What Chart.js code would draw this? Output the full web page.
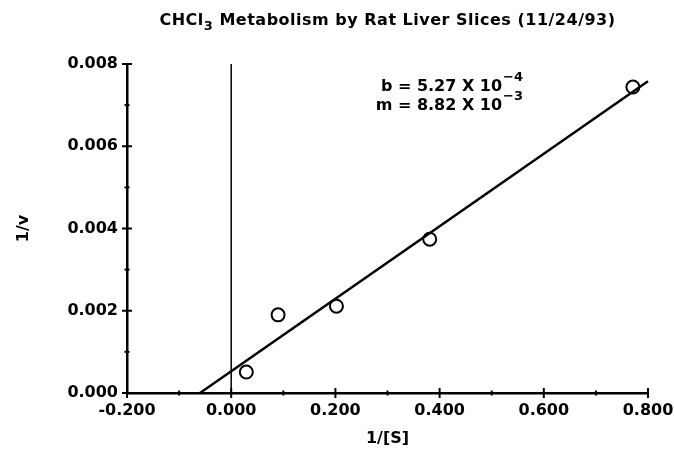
<!DOCTYPE html>
<html>
<head>
<meta charset="utf-8">
<script src="https://cdn.jsdelivr.net/npm/chart.js@4.4.0/dist/chart.umd.min.js"></script>
<style>
  html, body { margin: 0; padding: 0; background: #fff; }
  #wrap { width: 674px; height: 454px; }
</style>
</head>
<body>
<div id="wrap"><canvas id="canvas_1"></canvas></div>
<script>
// data
let invS = [0.029, 0.090, 0.202, 0.381, 0.771];
let invV = [0.00051, 0.00190, 0.00211, 0.00374, 0.00744];
// fitted line, b = 5.27e-4, m = 8.82e-3
let fitX = [-0.060, 0.800];
let fitY = [0.0, 0.00758];
// vertical line at 1/[S] = 0
let zeroX = [0, 0];
let zeroY = [0, 0.008];
let xTicks = [-0.2, 0, 0.2, 0.4, 0.6, 0.8];
let yTicks = [0, 0.002, 0.004, 0.006, 0.008];
let titleParts = ['CHCl', '3', ' Metabolism by Rat Liver Slices (11/24/93)'];
let noteB = ['b = 5.27 X 10', '\u22124'];
let noteM = ['m = 8.82 X 10', '\u22123'];

const FONT = '"DejaVu Sans", sans-serif';

function toPoints(xs, ys) {
  return xs.map((x, i) => ({ x: x, y: ys[i] }));
}
function isMajor(list, v) {
  return list.some(t => Math.abs(t - v) < 1e-9);
}

// crossing major ticks, small minor ticks, title and fit note
const decor = {
  id: 'decor',
  afterDraw(chart) {
    const ctx = chart.ctx;
    const area = chart.chartArea;
    const sx = chart.scales.x, sy = chart.scales.y;
    ctx.save();
    ctx.strokeStyle = '#000';
    ctx.lineWidth = 2;
    sx.ticks.forEach(t => {
      const px = sx.getPixelForValue(t.value);
      const len = isMajor(xTicks, t.value) ? 5 : 2.5;
      ctx.beginPath();
      ctx.moveTo(px, area.bottom - len);
      ctx.lineTo(px, area.bottom + len);
      ctx.stroke();
    });
    sy.ticks.forEach(t => {
      const py = sy.getPixelForValue(t.value);
      const len = isMajor(yTicks, t.value) ? 5 : 2.5;
      ctx.beginPath();
      ctx.moveTo(area.left - len, py);
      ctx.lineTo(area.left + len, py);
      ctx.stroke();
    });

    // title with subscript
    ctx.fillStyle = '#000';
    ctx.textBaseline = 'alphabetic';
    ctx.textAlign = 'left';
    ctx.letterSpacing = '0.5px';
    const big = 'bold 16px ' + FONT, small = 'bold 13px ' + FONT;
    ctx.font = big;
    const w0 = ctx.measureText(titleParts[0]).width;
    const w2 = ctx.measureText(titleParts[2]).width;
    ctx.font = small;
    const w1 = ctx.measureText(titleParts[1]).width;
    let tx = (area.left + area.right) / 2 - (w0 + w1 + w2) / 2;
    const ty = 25;
    ctx.font = big;
    ctx.fillText(titleParts[0], tx, ty);
    ctx.font = small;
    ctx.fillText(titleParts[1], tx + w0, ty + 5);
    ctx.font = big;
    ctx.fillText(titleParts[2], tx + w0 + w1, ty);
    ctx.letterSpacing = '0px';

    // fit note, right aligned before the exponent
    const nx = sx.getPixelForValue(0.52);
    [[noteB, sy.getPixelForValue(0.00734)], [noteM, sy.getPixelForValue(0.00688)]].forEach(n => {
      const parts = n[0], y = n[1];
      ctx.font = big;
      ctx.textAlign = 'right';
      ctx.fillText(parts[0], nx, y);
      ctx.font = small;
      ctx.textAlign = 'left';
      ctx.fillText(parts[1], nx + 1, y - 10);
    });
    ctx.restore();
  }
};

let canvas = document.getElementById('canvas_1');
let ctx = canvas.getContext('2d');
let chart = new Chart(ctx, {
  type: 'scatter',
  data: {
    datasets: [{
      data: toPoints(zeroX, zeroY),
      showLine: true,
      borderColor: '#000',
      borderWidth: 1.5,
      pointRadius: 0
    }, {
      data: toPoints(fitX, fitY),
      showLine: true,
      borderColor: '#000',
      borderWidth: 2.5,
      pointRadius: 0,
      clip: false
    }, {
      data: toPoints(invS, invV),
      pointStyle: 'circle',
      pointRadius: 6.5,
      pointBorderWidth: 2,
      pointBorderColor: '#000',
      pointBackgroundColor: 'rgba(255,255,255,0)'
    }]
  },
  options: {
    responsive: true,
    maintainAspectRatio: false,
    animation: false,
    layout: { padding: { top: 64, right: 26, bottom: 0, left: 0 } },
    plugins: {
      legend: { display: false },
      tooltip: { enabled: false },
      title: { display: false }
    },
    scales: {
      x: {
        type: 'linear',
        min: -0.2,
        max: 0.8,
        grid: { display: false, drawTicks: false },
        border: { display: true, color: '#000', width: 2.5 },
        ticks: {
          stepSize: 0.1,
          autoSkip: false,
          maxRotation: 0,
          padding: 8,
          color: '#000',
          font: { family: FONT, size: 16, weight: 'bold' },
          callback: function (value) {
            return isMajor(xTicks, value) ? value.toFixed(3) : '';
          }
        },
        title: {
          display: true,
          text: '1/[S]',
          color: '#000',
          font: { family: FONT, size: 16, weight: 'bold' },
          padding: { top: 0, bottom: 6 }
        },
        afterFit: function (scale) {
          scale.height = 61;
          scale.paddingLeft = 0;
          scale.paddingRight = 0;
        }
      },
      y: {
        type: 'linear',
        min: 0,
        max: 0.008,
        grid: { display: false, drawTicks: false },
        border: { display: true, color: '#000', width: 2.5 },
        ticks: {
          stepSize: 0.001,
          autoSkip: false,
          padding: 9,
          color: '#000',
          font: { family: FONT, size: 16, weight: 'bold' },
          callback: function (value) {
            return isMajor(yTicks, value) ? value.toFixed(3) : '';
          }
        },
        title: {
          display: true,
          text: '1/v',
          color: '#000',
          font: { family: FONT, size: 16, weight: 'bold' },
          padding: { top: 14, bottom: 0 }
        },
        afterFit: function (scale) {
          scale.width = 127;
          scale.paddingTop = 0;
          scale.paddingBottom = 0;
        }
      }
    }
  },
  plugins: [decor]
});
</script>
</body>
</html>
